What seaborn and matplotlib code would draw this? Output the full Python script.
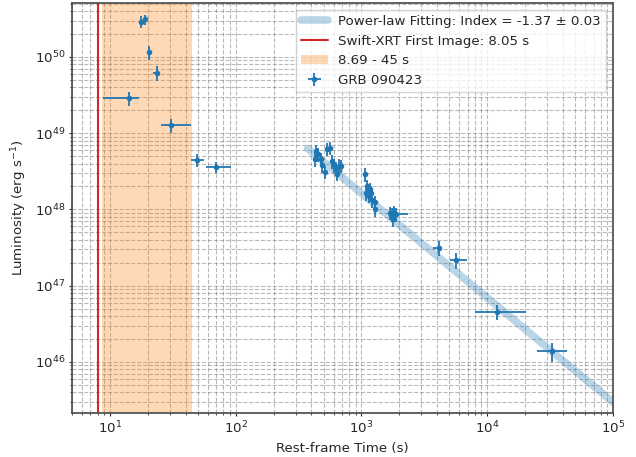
import numpy as np
import pandas as pd
import matplotlib
matplotlib.use("Agg")
import matplotlib.pyplot as plt
import seaborn as sns

# ---- data (rest-frame time in s, luminosity in erg/s) ----
time = [14.3, 17.7, 18.9, 20.6, 23.5, 30.7, 48.9, 69.2,
        431, 439, 452, 481, 486, 518, 537, 560, 585, 606, 633, 645, 661, 685,
        1076, 1082, 1109, 1148, 1164, 1200, 1214, 1276, 1292,
        1700, 1762, 1782, 1806, 1872,
        4130, 5686, 12020, 32660]
time_err_lo = [5.5, 0.4, 0.4, 0.4, 1.4, 5.1, 5.1, 11.2,
               12, 12, 12, 13, 13, 14, 14, 15, 15, 16, 16, 17, 17, 18,
               25, 25, 26, 26, 27, 28, 28, 30, 30,
               40, 40, 42, 42, 150,
               424, 659, 4077, 7830]
time_err_hi = [2.8, 0.4, 0.4, 0.4, 1.5, 13.1, 7.0, 22.4,
               12, 12, 12, 13, 13, 14, 14, 15, 15, 16, 16, 17, 17, 18,
               25, 25, 26, 26, 27, 28, 28, 30, 30,
               40, 40, 42, 42, 461,
               267, 1216, 8440, 10590]
lum = [2.86e49, 2.9e50, 3.1e50, 1.15e50, 6.2e49, 1.28e49, 4.45e48, 3.65e48,
       4.55e48, 5.85e48, 5.3e48, 4.55e48, 3.8e48, 3.1e48, 6.25e48, 6.45e48,
       4.3e48, 3.8e48, 3.55e48, 2.95e48, 3.75e48, 3.7e48,
       2.9e48, 1.66e48, 2.03e48, 1.5e48, 1.83e48, 1.66e48, 1.35e48, 1.0e48, 1.25e48,
       9.05e47, 8.6e47, 7.4e47, 9.2e47, 8.6e47,
       3.13e47, 2.15e47, 4.5e46, 1.40e46]
lum_err = [0.57e49, 0.5e50, 0.5e50, 0.23e50, 0.13e50, 0.26e49, 0.9e48, 0.6e48,
           0.9e48, 1.2e48, 1.1e48, 0.9e48, 0.8e48, 0.6e48, 1.2e48, 1.3e48,
           0.9e48, 0.8e48, 0.7e48, 0.6e48, 0.8e48, 0.7e48,
           0.6e48, 0.35e48, 0.4e48, 0.3e48, 0.4e48, 0.35e48, 0.3e48, 0.2e48, 0.25e48,
           1.8e47, 1.7e47, 1.5e47, 1.8e47, 1.7e47,
           0.7e47, 0.5e47, 1.0e46, 0.39e46]

fit_index = -1.37
fit_index_err = 0.03
fit_norm = 2.1e52
fit_t_start = 374
fit_t_end = 1e5
xrt_first_image = 8.05
span_start, span_end = 8.69, 45
grb_name = "GRB 090423"

sns.set_style("ticks", {"axes.edgecolor": "0.3"})
plt.rcParams["font.family"] = ["DejaVu Sans"]
plt.rcParams.update({
    "font.size": 9.6,
    "xtick.major.size": 2.2, "ytick.major.size": 2.2,
    "xtick.minor.size": 1.6, "ytick.minor.size": 1.6,
    "xtick.major.pad": 2.6, "ytick.major.pad": 2.6,
    "xtick.minor.pad": 2.6, "ytick.minor.pad": 2.6,
    "axes.linewidth": 1.25,
})

W, H = 636, 457
fig = plt.figure(figsize=(W / 100, H / 100), dpi=100)
ax = fig.add_axes([72 / W, 1 - 413 / H, (613 - 72) / W, (413 - 3) / H])
ax.set_xscale("log")
ax.set_yscale("log")

fit_t = np.logspace(np.log10(fit_t_start), np.log10(fit_t_end), 200)
fit_df = pd.DataFrame({"t": fit_t, "L": fit_norm * fit_t ** fit_index})
sns.lineplot(data=fit_df, x="t", y="L", ax=ax, color="C0", lw=5.5, alpha=0.3,
             label=f"Power-law Fitting: Index = {fit_index:.2f} ± {fit_index_err:.2f}")
ax.axvline(xrt_first_image, color="C3", lw=1.5,
           label=f"Swift-XRT First Image: {xrt_first_image} s")
ax.axvspan(span_start, span_end, color="C1", alpha=0.3, lw=0,
           label=f"{span_start} - {span_end} s")
ax.errorbar(time, lum, xerr=[time_err_lo, time_err_hi], yerr=lum_err,
            fmt="o", ms=3, color="C0", elinewidth=1.3, label=grb_name)

ax.set_xlim(5, 1e5)
ax.set_ylim(2.14e45, 5.1e50)
ax.grid(True, which="both", ls="--", color="gray", alpha=0.55, lw=0.8)
ax.set_xlabel("Rest-frame Time (s)")
ax.set_ylabel("Luminosity (erg s$^{-1}$)")
ax.legend(loc="upper right")

fig.savefig("out.png", dpi=100)
